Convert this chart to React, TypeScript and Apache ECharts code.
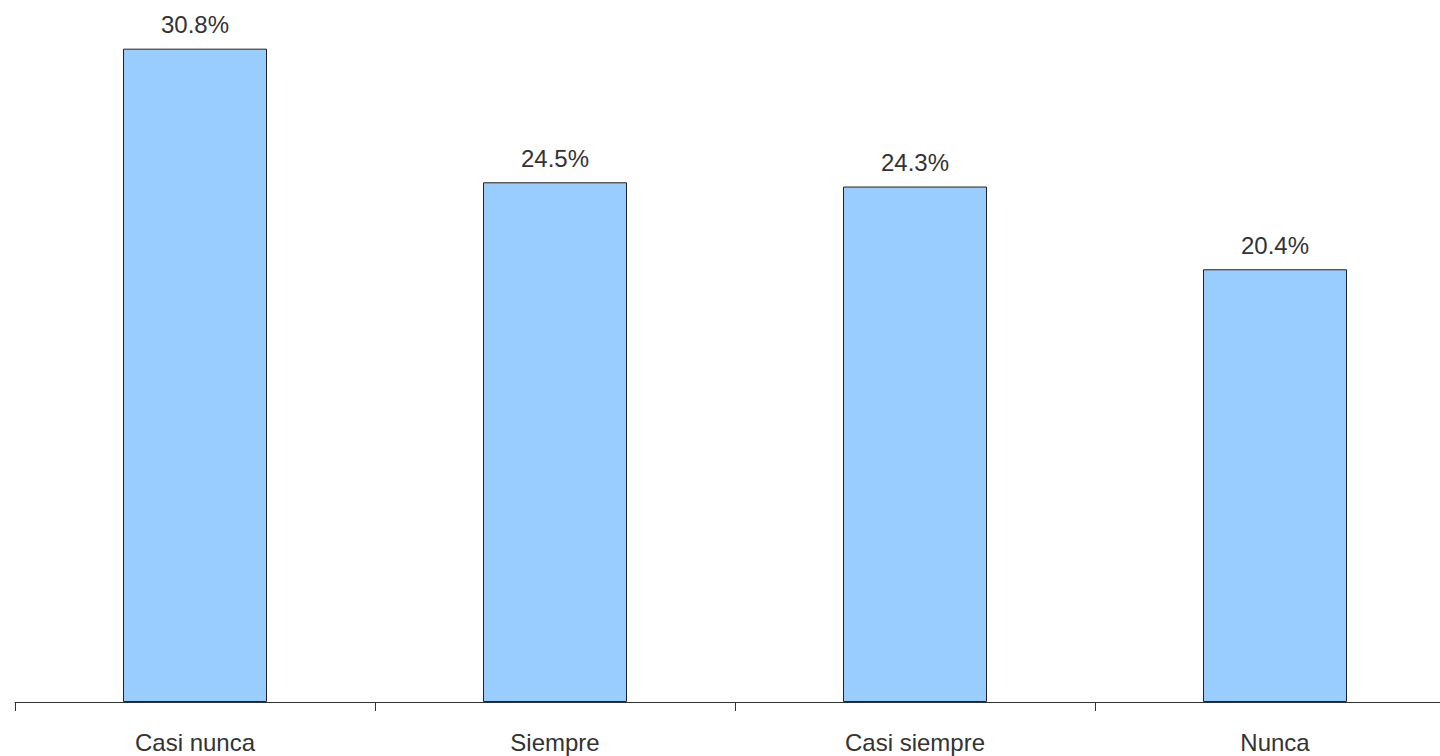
import React, { useEffect, useRef } from "react";
import * as echarts from "echarts";

const categories = ["Casi nunca", "Siempre", "Casi siempre", "Nunca"];
const values = [30.8, 24.5, 24.3, 20.4];

export default function App() {
  const ref = useRef<HTMLDivElement>(null);
  useEffect(() => {
    if (!ref.current) return;
    const chart = echarts.init(ref.current, null, { renderer: "svg" });
    chart.setOption({
      animation: false,
      backgroundColor: "#ffffff",
      grid: { left: 15, top: 2, right: 0, height: 700, containLabel: false },
      xAxis: {
        type: "category",
        data: categories,
        axisLine: { show: true, lineStyle: { color: "#333333", width: 1 } },
        axisTick: { show: true, length: 9, lineStyle: { color: "#333333" } },
        axisLabel: {
          margin: 28,
          fontSize: 24,
          color: "#333333",
          fontFamily: "Liberation Sans, Arial, sans-serif",
        },
        splitLine: { show: false },
      },
      yAxis: {
        type: "value",
        min: 0,
        max: 33,
        show: false,
        splitLine: { show: false },
      },
      series: [
        {
          type: "bar",
          data: values,
          barWidth: "40%",
          itemStyle: { color: "#99CCFF", borderColor: "#222222", borderWidth: 1 },
          label: {
            show: true,
            position: "top",
            distance: 12,
            fontSize: 24,
            color: "#333333",
            fontFamily: "Liberation Sans, Arial, sans-serif",
            formatter: (p: any) => p.value.toFixed(1) + "%",
          },
        },
      ],
    });
    return () => chart.dispose();
  }, []);
  return (
    <div
      style={{
        position: "fixed",
        left: 0,
        top: 0,
        width: 1440,
        height: 756,
        overflow: "hidden",
        background: "#ffffff",
      }}
    >
      <div ref={ref} style={{ width: 1455, height: 756 }} />
    </div>
  );
}
